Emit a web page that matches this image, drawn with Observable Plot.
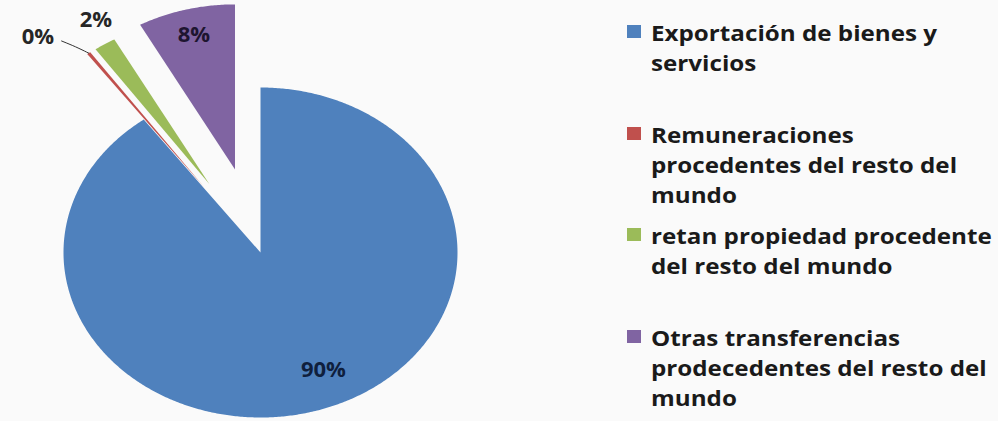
<!DOCTYPE html>
<html>
<head>
<meta charset="utf-8">
<script src="https://cdn.jsdelivr.net/npm/d3@7"></script>
<script src="https://cdn.jsdelivr.net/npm/@observablehq/plot@0.6"></script>
<style>
  html, body { margin: 0; padding: 0; background: #fafafa; }
  #wrap { position: relative; width: 998px; height: 421px; overflow: hidden; background: #fafafa; }
  #chart { position: absolute; left: 0; top: 0; }
  #legend { position: absolute; left: 627px; top: 17px; font-family: "Open Sans", sans-serif; font-weight: 700; font-size: 22px; line-height: 30px; color: #1a1a1a; }
  .item { position: absolute; left: 0; white-space: pre; }
  .sw { position: absolute; left: 0; top: 8px; width: 14px; height: 13px; }
  .txt { position: absolute; left: 24px; top: 0; transform: scaleX(1.1); transform-origin: left center; }
</style>
</head>
<body>
<div id="wrap">
  <div id="chart"></div>
  <div id="legend"></div>
</div>
<script>
// ---- data ----
const categories = [
  "Exportación de bienes y servicios",
  "Remuneraciones procedentes del resto del mundo",
  "retan propiedad procedente del resto del mundo",
  "Otras transferencias prodecedentes del resto del mundo"
];
const values = [89.9, 0.3, 1.8, 8.0];
const pctLabels = ["90%", "0%", "2%", "8%"];
const legendLabels = [
  "Exportación de bienes y\nservicios",
  "Remuneraciones\nprocedentes del resto del\nmundo",
  "retan propiedad procedente\ndel resto del mundo",
  "Otras transferencias\nprodecedentes del resto del\nmundo"
];
const colors = ["#4F81BD", "#C0504D", "#9BBB59", "#8064A2"];

// ---- layout (not data) ----
const W = 600, H = 421;
const cx = 260, cy = 252, rxPx = 197, ryPx = 165;
const explode = [0, 0.49, 0.49, 0.52];
const labelR = [0.78, 1.24, 1.15, 0.84];
const labelShift = [-6, -7, 2, 0];
const labelColors = ["#0f1f3d", "#262626", "#262626", "#1e1530"];

const arcs = d3.pie().sort(null).value(d => d)(values);
const deg = Math.PI / 180;
const pt = (a, r) => [r * Math.sin(a), r * Math.cos(a)];

const polys = [];
const labels = [];
arcs.forEach((a, i) => {
  const mid = (a.startAngle + a.endAngle) / 2;
  const [ox, oy] = pt(mid, explode[i]);
  polys.push({cat: categories[i], x: ox, y: oy});
  const n = Math.max(2, Math.ceil((a.endAngle - a.startAngle) / (0.5 * deg)));
  for (let k = 0; k <= n; k++) {
    const t = a.startAngle + (a.endAngle - a.startAngle) * k / n;
    const [px, py] = pt(t, 1);
    polys.push({cat: categories[i], x: ox + px, y: oy + py});
  }
  const [lx, ly] = pt(mid + labelShift[i] * deg, labelR[i]);
  labels.push({cat: categories[i], text: pctLabels[i], x: ox + lx, y: oy + ly, i, ox, oy, mid});
});

// leader line for the tiny slice (index 1)
const L = labels[1];
const [e0x, e0y] = pt(L.mid, 1.0);
const [e1x, e1y] = pt(L.mid, 1.06);
const leader = [
  {x: L.ox + e0x, y: L.oy + e0y},
  {x: L.ox + e1x - 0.03, y: L.oy + e1y - 0.01},
  {x: L.x + 0.12, y: L.y - 0.025}
];

const chart = Plot.plot({
  width: W, height: H,
  marginTop: 0, marginRight: 0, marginBottom: 0, marginLeft: 0,
  style: {background: "transparent"},
  x: {domain: [-cx / rxPx, (W - cx) / rxPx], axis: null},
  y: {domain: [-(H - cy) / ryPx, cy / ryPx], axis: null},
  color: {domain: categories, range: colors},
  marks: [
    Plot.line(polys, {x: "x", y: "y", z: "cat", fill: "cat", stroke: "none", curve: "linear"}),
    Plot.line(leader, {x: "x", y: "y", stroke: "#333", strokeWidth: 1, curve: "basis"}),
    Plot.text(labels, {x: "x", y: "y", text: "text", fill: d => labelColors[d.i],
      fontSize: 22, fontWeight: "bold", fontFamily: "'Open Sans', sans-serif"})
  ]
});
document.getElementById("chart").appendChild(chart);

// legend
const legend = document.getElementById("legend");
legendLabels.forEach((lab, i) => {
  const item = document.createElement("div");
  item.className = "item";
  item.style.top = (i * 101.5) + "px";
  const sw = document.createElement("div");
  sw.className = "sw";
  sw.style.background = colors[i];
  const tx = document.createElement("div");
  tx.className = "txt";
  tx.textContent = lab;
  item.appendChild(sw);
  item.appendChild(tx);
  legend.appendChild(item);
});
</script>
</body>
</html>
